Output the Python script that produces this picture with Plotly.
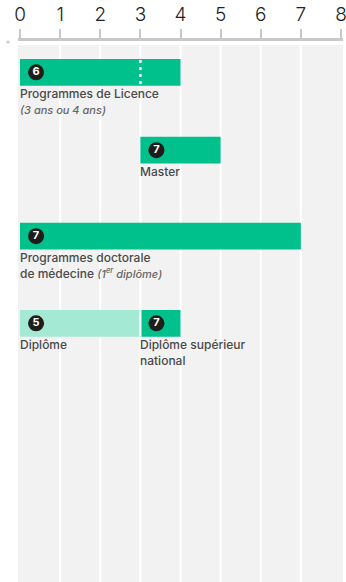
import plotly.graph_objects as go

# ---- data ----
ticks = [0, 1, 2, 3, 4, 5, 6, 7, 8]
labels = ["Programmes de Licence", "Master", "Programmes doctorale<br>de médecine",
          "Diplôme", "Diplôme supérieur<br>national"]
notes = ["(3 ans ou 4 ans)", "", "(1<sup>er</sup> diplôme)", "", ""]
note_new_line = [True, False, False, False, False]
starts = [0, 3, 0, 0, 3]
ends = [4, 5, 7, 3, 4]
levels = [6, 7, 7, 5, 7]
rows = [0, 1, 2, 3, 3]
kinds = ["main", "main", "main", "light", "main"]
licence_split = 3  # dotted marker inside the Licence bar

# ---- style / layout ----
W, H = 346, 582
TOP = 41
row_y = [72.3, 150.2, 236.2, 323.3]
BAR_H = 26.7
colors = {"main": "#00c08b", "light": "#a4e9d4"}
FONT = "Inter"

fig = go.Figure()

# background and white grid columns
shapes = [dict(type="rect", xref="x", yref="y", x0=-0.05, x1=8.05, y0=45, y1=H,
               fillcolor="#f2f2f2", line_width=0, layer="below")]
for t in ticks[1:-1]:
    shapes.append(dict(type="line", xref="x", yref="y", x0=t, x1=t, y0=45, y1=H,
                       line=dict(color="white", width=2.2), layer="below"))

# bars
for i in range(len(labels)):
    yc = row_y[rows[i]]
    fig.add_trace(go.Bar(
        orientation="h", y=[yc], x=[ends[i] - starts[i]], base=[starts[i]],
        width=BAR_H, marker=dict(color=colors[kinds[i]], line_width=0),
        hoverinfo="skip", showlegend=False))

# white gap between adjacent bars on the same row
for i in range(len(labels)):
    for j in range(len(labels)):
        if i != j and rows[i] == rows[j] and ends[i] == starts[j]:
            yc = row_y[rows[i]]
            shapes.append(dict(type="line", xref="x", yref="y", x0=starts[j], x1=starts[j],
                               y0=yc - BAR_H / 2, y1=yc + BAR_H / 2,
                               line=dict(color="white", width=2.2), layer="above"))

# dotted split in the Licence bar
yc0 = row_y[rows[0]]
shapes.append(dict(type="line", xref="x", yref="y", x0=licence_split, x1=licence_split,
                   y0=yc0 - BAR_H / 2 + 1, y1=yc0 + BAR_H / 2,
                   line=dict(color="white", width=2.5, dash="3px,4px"), layer="above"))

# small dot left of the axis
shapes.append(dict(type="circle", xref="paper", yref="paper",
                   x0=(6.5 - 18) / 325, x1=(9.5 - 18) / 325,
                   y0=(H - 43.5) / (H - TOP), y1=(H - 40.5) / (H - TOP),
                   fillcolor="#c8c8c8", line_width=0))

# badges
fig.add_trace(go.Scatter(
    x=[s + 0.4 for s in starts], y=[row_y[r] for r in rows],
    mode="markers+text", text=[str(v) for v in levels],
    marker=dict(size=16, color="#1d1d1b", line_width=0),
    textfont=dict(color="white", size=11, family=FONT, weight="bold"),
    textposition="middle center", hoverinfo="skip", showlegend=False))

# labels
annotations = []
for i in range(len(labels)):
    txt = labels[i]
    if notes[i]:
        sep = "<br>" if note_new_line[i] else " "
        txt += sep + "<i><span style='color:#666;font-size:11px'>" + notes[i] + "</span></i>"
    annotations.append(dict(
        x=starts[i], y=row_y[rows[i]] + BAR_H / 2, xref="x", yref="y",
        text=txt, showarrow=False, xanchor="left", yanchor="top",
        align="left", xshift=-2, yshift=2,
        font=dict(family=FONT, size=12, color="#4a4a4a", weight=500)))

fig.update_layout(
    width=W, height=H,
    margin=dict(l=18, r=3, t=TOP, b=0, autoexpand=False),
    paper_bgcolor="white", plot_bgcolor="white",
    barmode="overlay",
    shapes=shapes, annotations=annotations,
    xaxis=dict(range=[-0.05, 8.05], side="top", tickvals=ticks,
               ticktext=[str(t) for t in ticks],
               showgrid=False, zeroline=False, showline=True,
               linecolor="#c8c8c8", linewidth=3,
               ticks="outside", ticklen=9, tickwidth=2, tickcolor="#c8c8c8",
               tickfont=dict(family=FONT, size=19, color="#222", weight=300),
               ticklabeloverflow="allow",
               automargin=False, fixedrange=True),
    yaxis=dict(range=[H, TOP], visible=False, fixedrange=True),
)

fig.write_html("out.html", config={"displayModeBar": False},
               post_script="document.body.style.margin='0';document.body.style.overflow='hidden';")
